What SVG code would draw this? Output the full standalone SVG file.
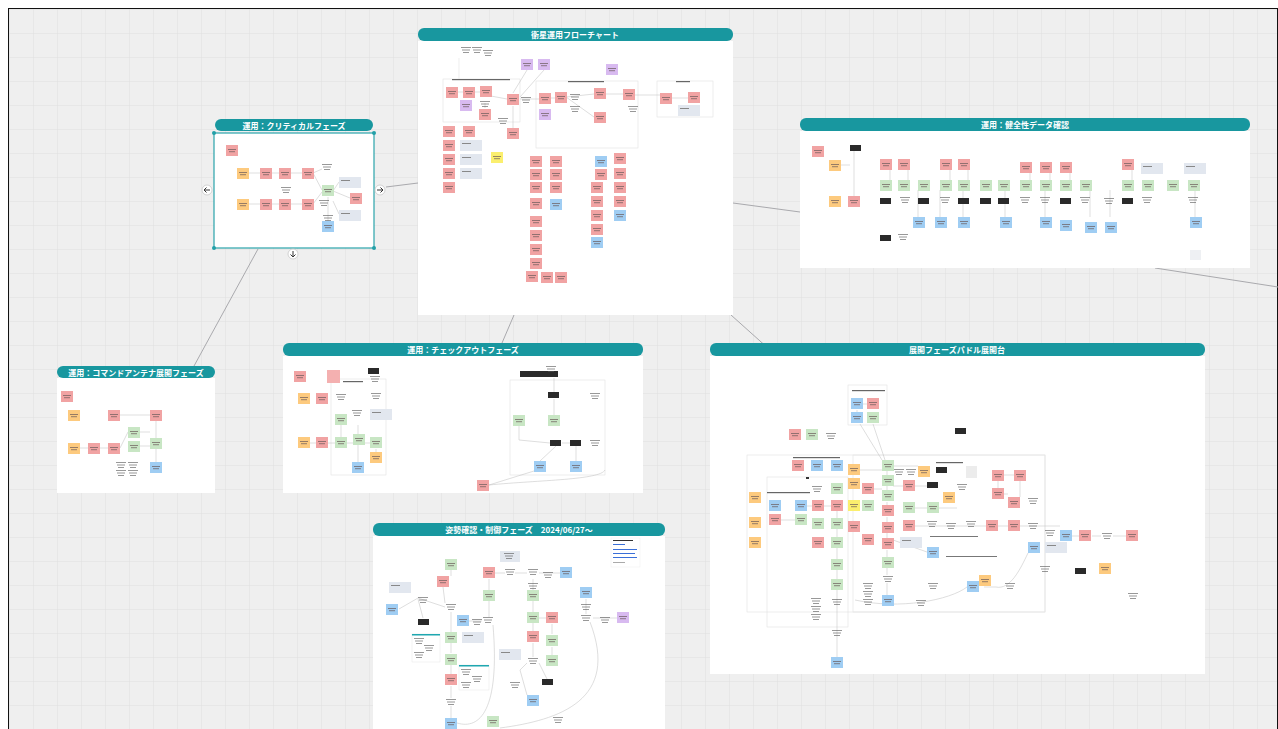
<svg xmlns="http://www.w3.org/2000/svg" xmlns:xlink="http://www.w3.org/1999/xlink" width="1278" height="729" viewBox="0 0 1278 729">
<style>
.ttl{fill:#18979f}
.tt{font-family:"Noto Sans CJK JP","Noto Sans",sans-serif;font-size:8px;font-weight:bold;fill:#fff;text-anchor:middle}
.body{fill:#fff}
.grp{fill:none;stroke:#e2e2e2;stroke-width:0.6}
.cn{stroke:#a9a9ad;stroke-width:1;fill:none}
.ln{stroke:#bdbdbd;stroke-width:0.5;fill:none}
</style>
<defs>
<pattern id="grid" width="24" height="24" patternUnits="userSpaceOnUse" x="10" y="10">
<rect width="24" height="24" fill="#efefef"/>
<path d="M24 0V24M0 24H24" stroke="#e0e0e0" stroke-width="1"/>
</pattern>
<g id="bars"><rect x="2" y="4" width="8" height="1" fill="#6a5a5a" opacity="0.7"/><rect x="3" y="6.2" width="6" height="1" fill="#6a5a5a" opacity="0.7"/></g>
<g id="R"><rect width="12" height="11" fill="#f1a3a3"/><use href="#bars"/></g>
<g id="O"><rect width="12" height="11" fill="#fdca7e"/><use href="#bars"/></g>
<g id="G"><rect width="12" height="11" fill="#c8e6c4"/><use href="#bars"/></g>
<g id="B"><rect width="12" height="11" fill="#9fcdf3"/><use href="#bars"/></g>
<g id="P"><rect width="12" height="11" fill="#d8baf0"/><use href="#bars"/></g>
<g id="Y"><rect width="12" height="11" fill="#fbef6e"/><use href="#bars"/></g>
<g id="S"><rect width="22" height="11" fill="#e2e7ef"/><rect x="2" y="3" width="9" height="1" fill="#888"/></g>
<g id="T" opacity="0.6"><rect x="0" y="0" width="10" height="1" fill="#555"/><rect x="1" y="2.5" width="8" height="1" fill="#555"/><rect x="2" y="5" width="6" height="1" fill="#555"/></g>
<g id="K"><rect width="11" height="6" fill="#2a2a2a"/></g>
</defs>

<rect width="1278" height="729" fill="#fff"/>
<rect x="9" y="9" width="1268" height="722" fill="url(#grid)"/>
<rect x="8.5" y="8.5" width="1269" height="730" fill="none" stroke="#111" stroke-width="1"/>

<g id="connectors">
<path class="cn" d="M386 187L418 183"/>
<path class="cn" d="M258 249L194 366"/>
<path class="cn" d="M514 315L502 343"/>
<path class="cn" d="M731 315L779 358"/>
<path class="cn" d="M733 203L800 212"/>
<path class="cn" d="M1155 268L1278 287"/>
</g>

<!-- main flowchart frame -->
<g id="frame-main">
<rect class="body" x="418" y="41" width="315" height="274"/>
<rect class="ttl" x="418" y="28" width="315" height="13" rx="6"/>
<text class="tt" x="575" y="38">衛星運用フローチャート</text>
<use href="#T" x="461" y="47"/><use href="#T" x="472" y="47"/><use href="#T" x="483" y="50"/>
<path class="grp" d="M459 58V79"/>
<rect class="grp" x="443" y="79" width="77" height="43"/>
<rect class="grp" x="536" y="81" width="102" height="67"/>
<rect class="grp" x="657" y="81" width="56" height="36"/>
<rect x="452" y="79" width="58" height="1.2" fill="#666"/>
<rect x="568" y="81" width="36" height="1.2" fill="#666"/>
<rect x="676" y="81" width="14" height="1.2" fill="#666"/>
<path class="ln" d="M457 92H463M475 92H480M491 96L507 99M520 99H539M550 98H555M566 97L594 94M566 97L594 117M606 94H623M635 95H660M671 98H688M513 106V128M485 103V108M527 70L513 93M544 70L520 97"/>
<use href="#P" x="521" y="59"/><use href="#P" x="538" y="59"/><use href="#P" x="606" y="64"/><use href="#P" x="460" y="100"/><use href="#P" x="539" y="109"/>
<use href="#R" x="446" y="87"/><use href="#R" x="463" y="87"/><use href="#R" x="480" y="86"/><use href="#R" x="507" y="94"/><use href="#R" x="479" y="109"/><use href="#R" x="507" y="128"/>
<use href="#R" x="539" y="93"/><use href="#R" x="555" y="92"/><use href="#R" x="594" y="88"/><use href="#R" x="594" y="112"/><use href="#R" x="623" y="89"/>
<use href="#R" x="660" y="93"/><use href="#R" x="688" y="92"/>
<use href="#S" x="678" y="105"/>
<use href="#T" x="570" y="94"/><use href="#T" x="570" y="106"/><use href="#T" x="480" y="101"/><use href="#T" x="498" y="118"/><use href="#T" x="521" y="97"/><use href="#T" x="628" y="106"/>
<use href="#R" x="443" y="126"/><use href="#R" x="463" y="126"/><use href="#R" x="443" y="140"/><use href="#R" x="443" y="154"/><use href="#R" x="443" y="168"/><use href="#R" x="443" y="182"/>
<use href="#S" x="460" y="140"/><use href="#S" x="460" y="154"/><use href="#S" x="460" y="168"/>
<use href="#Y" x="491" y="152"/>
<use href="#R" x="530" y="156"/><use href="#R" x="530" y="169"/><use href="#R" x="530" y="182"/><use href="#R" x="530" y="198"/><use href="#R" x="530" y="216"/><use href="#R" x="530" y="230"/><use href="#R" x="530" y="244"/><use href="#R" x="530" y="258"/><use href="#R" x="526" y="271"/><use href="#R" x="541" y="272"/><use href="#R" x="555" y="272"/>
<use href="#R" x="550" y="156"/><use href="#R" x="550" y="169"/><use href="#R" x="550" y="182"/><use href="#B" x="550" y="199"/>
<use href="#B" x="595" y="156"/><use href="#R" x="595" y="169"/><use href="#R" x="591" y="182"/><use href="#R" x="591" y="196"/><use href="#R" x="591" y="210"/><use href="#R" x="591" y="224"/><use href="#B" x="591" y="237"/>
<use href="#R" x="614" y="153"/><use href="#R" x="614" y="168"/><use href="#R" x="614" y="182"/><use href="#R" x="614" y="196"/><use href="#B" x="614" y="210"/>
</g>

<!-- critical phase frame -->
<g id="frame-critical">
<rect class="body" x="214" y="133" width="160" height="115" stroke="#2aa3ab" stroke-width="1.2"/>
<rect class="ttl" x="215" y="119" width="158" height="12" rx="6"/>
<text class="tt" x="294" y="128.5">運用：クリティカルフェーズ</text>
<path class="ln" d="M249 173H260M272 173H279M291 173H302M313 173L322 169M313 173L322 190M249 204H260M272 204H279M291 204H302M313 204L322 192M333 191L350 198M333 191L339 182M333 201L339 214M328 197V221"/>
<use href="#R" x="226" y="145"/>
<use href="#O" x="237" y="168"/><use href="#R" x="260" y="168"/><use href="#R" x="279" y="168"/><use href="#R" x="302" y="168"/>
<use href="#O" x="237" y="199"/><use href="#R" x="260" y="199"/><use href="#R" x="279" y="199"/><use href="#R" x="302" y="199"/>
<use href="#G" x="322" y="185"/><use href="#S" x="339" y="177"/><use href="#R" x="350" y="193"/><use href="#S" x="339" y="210"/><use href="#B" x="322" y="221"/>
<use href="#T" x="322" y="164"/><use href="#T" x="281" y="187"/><use href="#T" x="319" y="200"/><use href="#T" x="323" y="215"/>
<g fill="#23a0a8"><circle cx="214" cy="133" r="2"/><circle cx="374" cy="133" r="2"/><circle cx="214" cy="248" r="2"/><circle cx="374" cy="248" r="2"/></g>
<g fill="#fff" stroke="#c8c8c8" stroke-width="0.8"><circle cx="207" cy="190" r="5"/><circle cx="380" cy="190" r="5"/><circle cx="293" cy="254" r="5"/></g>
<path d="M210 190H204M206.5 187.5L204 190L206.5 192.5M377 190H383M380.5 187.5L383 190L380.5 192.5M293 251V257M290.5 254.5L293 257L295.5 254.5" stroke="#333" stroke-width="1" fill="none"/>
</g>

<!-- health data frame -->
<g id="frame-health">
<rect class="body" x="800" y="131" width="450" height="137"/>
<rect class="ttl" x="800" y="118" width="450" height="13" rx="6"/>
<text class="tt" x="1025" y="127.5">運用：健全性データ確認</text>
<path class="ln" d="M854 150V196M840 165H850M890 170V180M908 170V180M950 170V180M968 170V180M1030 170V180M1050 170V180M1070 170V180M1132 170V180M918 190V217M940 190V217M963 190V217M1005 190V217M1045 190V217M1090 190V217M1110 190V217M1195 190V217"/>
<use href="#R" x="812" y="146"/><use href="#K" x="850" y="145"/>
<use href="#O" x="829" y="160"/><use href="#O" x="829" y="196"/><use href="#R" x="848" y="196"/>
<use href="#R" x="880" y="159"/><use href="#R" x="898" y="159"/><use href="#R" x="940" y="159"/><use href="#R" x="958" y="159"/><use href="#R" x="1020" y="162"/><use href="#R" x="1040" y="162"/><use href="#R" x="1060" y="162"/><use href="#R" x="1122" y="159"/>
<use href="#S" x="1141" y="163"/><use href="#S" x="1184" y="163"/>
<use href="#G" x="880" y="180"/><use href="#G" x="898" y="180"/><use href="#G" x="918" y="180"/><use href="#G" x="940" y="180"/><use href="#G" x="958" y="180"/><use href="#G" x="980" y="180"/><use href="#G" x="998" y="180"/><use href="#G" x="1020" y="180"/><use href="#G" x="1040" y="180"/><use href="#G" x="1060" y="180"/><use href="#G" x="1080" y="180"/><use href="#G" x="1122" y="180"/><use href="#G" x="1142" y="180"/><use href="#G" x="1167" y="180"/><use href="#G" x="1188" y="180"/>
<use href="#K" x="880" y="198"/><use href="#T" x="900" y="197"/><use href="#K" x="918" y="198"/><use href="#T" x="940" y="197"/><use href="#K" x="958" y="198"/><use href="#K" x="980" y="198"/><use href="#K" x="998" y="198"/><use href="#T" x="1020" y="197"/><use href="#T" x="1040" y="197"/><use href="#K" x="1060" y="198"/><use href="#T" x="1080" y="197"/><use href="#T" x="1104" y="198"/><use href="#K" x="1122" y="198"/><use href="#T" x="1142" y="197"/><use href="#T" x="1188" y="197"/>
<use href="#B" x="913" y="217"/><use href="#B" x="935" y="217"/><use href="#B" x="958" y="217"/><use href="#B" x="1000" y="217"/><use href="#B" x="1040" y="217"/><use href="#B" x="1060" y="220"/><use href="#B" x="1085" y="222"/><use href="#B" x="1105" y="222"/><use href="#B" x="1190" y="217"/>
<use href="#K" x="880" y="235"/><use href="#T" x="898" y="234"/>
<rect x="1190" y="250" width="11" height="10" fill="#eef0f3"/>
</g>

<!-- command antenna frame -->
<g id="frame-antenna">
<rect class="body" x="57" y="378" width="158" height="115"/>
<rect class="ttl" x="57" y="366" width="158" height="12" rx="6"/>
<text class="tt" x="136" y="375.5">運用：コマンドアンテナ展開フェーズ</text>
<path class="ln" d="M80 448H88M100 448H108M120 448L128 432M120 415H150M139 432H150M139 446H150M156 421V438M156 448V462"/>
<use href="#R" x="61" y="391"/>
<use href="#O" x="68" y="410"/><use href="#O" x="68" y="443"/><use href="#R" x="88" y="443"/>
<use href="#R" x="108" y="410"/><use href="#R" x="108" y="443"/><use href="#G" x="128" y="427"/><use href="#G" x="128" y="441"/>
<use href="#R" x="150" y="410"/><use href="#G" x="150" y="438"/><use href="#B" x="150" y="462"/>
<use href="#T" x="116" y="462"/><use href="#T" x="128" y="462"/><use href="#T" x="116" y="470"/><use href="#T" x="128" y="470"/>
</g>

<!-- checkout frame -->
<g id="frame-checkout">
<rect class="body" x="283" y="356" width="360" height="137"/>
<rect class="ttl" x="283" y="343" width="360" height="13" rx="6"/>
<text class="tt" x="463" y="352.5">運用：チェックアウトフェーズ</text>
<rect class="grp" x="331" y="379" width="55" height="96"/>
<rect class="grp" x="510" y="380" width="95" height="95"/>
<path class="ln" d="M310 443H316M328 443H335M347 443H370M341 425V437M358 425V435M376 449V452M358 445V462M554 378V392M554 399V415M519 425V440L550 443M562 443H570M576 446V461M556 446L540 461M489 485L534 471M489 485C540 480 600 480 605 470"/>
<use href="#R" x="294" y="371"/><rect x="327" y="370" width="13" height="13" fill="#f4b0b0"/>
<use href="#K" x="368" y="368"/><use href="#T" x="370" y="376"/>
<rect x="343" y="381" width="20" height="1.2" fill="#666"/>
<use href="#O" x="298" y="393"/><use href="#R" x="316" y="393"/><use href="#T" x="336" y="394"/><use href="#T" x="371" y="393"/>
<use href="#G" x="335" y="414"/><use href="#T" x="352" y="410"/><use href="#S" x="370" y="409"/>
<use href="#O" x="298" y="437"/><use href="#R" x="316" y="437"/><use href="#G" x="335" y="437"/><use href="#G" x="353" y="434"/><use href="#G" x="370" y="437"/>
<use href="#B" x="352" y="462"/><use href="#O" x="370" y="452"/>
<rect x="520" y="371" width="38" height="6" fill="#2a2a2a"/><use href="#T" x="546" y="366"/>
<use href="#K" x="548" y="392"/><use href="#T" x="590" y="393"/>
<use href="#G" x="513" y="415"/><use href="#G" x="548" y="415"/>
<use href="#K" x="550" y="440"/><use href="#K" x="570" y="440"/><use href="#T" x="590" y="440"/>
<use href="#B" x="534" y="461"/><use href="#B" x="570" y="461"/>
<use href="#R" x="477" y="480"/>
</g>

<!-- paddle deployment frame -->
<g id="frame-paddle">
<rect class="body" x="710" y="356" width="495" height="318"/>
<rect class="ttl" x="710" y="343" width="495" height="13" rx="6"/>
<text class="tt" x="957" y="352.5">展開フェーズパドル展開台</text>
<rect class="grp" x="848" y="385" width="39" height="40"/>
<rect class="grp" x="747" y="455" width="298" height="157"/>
<rect class="grp" x="767" y="477" width="81" height="150"/>
<rect class="grp" x="853" y="455" width="192" height="157"/>
<rect x="852" y="390" width="33" height="1.2" fill="#666"/>
<rect x="793" y="457" width="47" height="1.2" fill="#666"/>
<rect x="767" y="492" width="43" height="1.2" fill="#666"/>
<rect x="936" y="462" width="27" height="1.2" fill="#666"/>
<path class="ln" d="M863 404H867M857 410V412M860 424L882 460M873 424L885 460M887 466V475M887 486V490M887 502V505M887 517V522M887 533V538M887 550V557M887 568V575M887 583V595M837 505V631M837 631V657M781 520H795M803 506H812M823 506H831M859 470H882M893 466H918M873 489H882M893 486H903M915 486H927M915 508H927M938 508H957M915 526H986M997 526H1008M1020 526H1060M1072 536H1079M1092 536H1101M1113 536H1126M998 475H1014M998 481V488M1020 481V497M1003 494H1008M984 587H996C1010 590 1020 570 1028 553M855 600C900 610 950 600 967 587M893 540L927 552"/>
<use href="#B" x="851" y="398"/><use href="#R" x="867" y="398"/><use href="#B" x="851" y="412"/><use href="#G" x="867" y="412"/>
<use href="#K" x="955" y="428"/>
<use href="#R" x="789" y="429"/><use href="#G" x="806" y="429"/><use href="#T" x="826" y="433"/>
<use href="#R" x="792" y="460"/><use href="#B" x="811" y="460"/><use href="#B" x="831" y="460"/>
<use href="#O" x="848" y="464"/><use href="#O" x="848" y="478"/><use href="#Y" x="848" y="500"/><use href="#R" x="848" y="521"/>
<use href="#G" x="882" y="460"/><use href="#G" x="882" y="475"/><use href="#G" x="882" y="490"/><use href="#R" x="882" y="505"/><use href="#R" x="882" y="522"/><use href="#R" x="882" y="538"/><use href="#G" x="882" y="557"/><use href="#T" x="883" y="576"/><use href="#B" x="882" y="595"/>
<use href="#T" x="894" y="469"/><use href="#T" x="906" y="469"/>
<use href="#O" x="918" y="466"/><use href="#K" x="936" y="467"/><rect x="966" y="466" width="11" height="12" fill="#ececec"/>
<use href="#R" x="903" y="480"/><use href="#K" x="927" y="482"/><use href="#T" x="957" y="484"/>
<use href="#R" x="992" y="470"/><use href="#R" x="1014" y="470"/><use href="#R" x="992" y="488"/><use href="#R" x="1008" y="497"/><use href="#T" x="1028" y="498"/>
<use href="#O" x="943" y="492"/>
<use href="#R" x="862" y="483"/><use href="#G" x="862" y="500"/><use href="#R" x="862" y="534"/>
<use href="#G" x="903" y="502"/><use href="#G" x="927" y="502"/>
<use href="#R" x="903" y="520"/><use href="#T" x="927" y="521"/><use href="#T" x="946" y="523"/><use href="#T" x="966" y="521"/>
<use href="#S" x="900" y="537"/><use href="#B" x="927" y="547"/>
<use href="#R" x="986" y="520"/><use href="#R" x="1008" y="520"/><use href="#T" x="1028" y="523"/>
<rect x="930" y="536" width="48" height="1" fill="#777"/><rect x="946" y="556" width="51" height="1" fill="#777"/>
<use href="#B" x="1028" y="542"/><use href="#S" x="1045" y="542"/><use href="#T" x="1045" y="530"/>
<use href="#B" x="1060" y="530"/><use href="#R" x="1079" y="530"/><use href="#T" x="1102" y="533"/><use href="#R" x="1126" y="530"/>
<use href="#T" x="1040" y="566"/><use href="#K" x="1075" y="568"/><use href="#O" x="1099" y="563"/><use href="#T" x="1128" y="593"/>
<use href="#O" x="979" y="575"/><use href="#B" x="967" y="581"/>
<use href="#T" x="928" y="583"/><use href="#T" x="1005" y="583"/><use href="#T" x="916" y="600"/>
<use href="#T" x="811" y="598"/><use href="#T" x="811" y="606"/><use href="#T" x="811" y="614"/><use href="#T" x="863" y="583"/><use href="#T" x="863" y="591"/><use href="#T" x="863" y="599"/>
<use href="#T" x="812" y="486"/><use href="#G" x="831" y="483"/>
<use href="#R" x="812" y="500"/><use href="#R" x="831" y="500"/>
<use href="#G" x="812" y="518"/><use href="#G" x="831" y="518"/>
<use href="#R" x="812" y="537"/><use href="#G" x="831" y="537"/>
<use href="#G" x="831" y="559"/><use href="#G" x="831" y="579"/><use href="#T" x="832" y="599"/><use href="#T" x="832" y="630"/>
<use href="#B" x="831" y="657"/>
<use href="#B" x="769" y="500"/><use href="#B" x="795" y="500"/><use href="#R" x="769" y="514"/><use href="#G" x="795" y="514"/>
<use href="#O" x="749" y="492"/><use href="#O" x="749" y="517"/><use href="#O" x="749" y="537"/>
<rect x="806" y="477" width="3" height="2" fill="#333"/>
</g>

<!-- attitude determination frame -->
<g id="frame-attitude">
<rect class="body" x="373" y="536" width="292" height="193"/>
<rect class="ttl" x="373" y="523" width="292" height="13" rx="6"/>
<text class="tt" x="519" y="532.5">姿勢確認・制御フェーズ　2024/06/27〜</text>
<path class="ln" d="M451 570V576M443 587L445 603M399 609L418 598L445 607M489 579V590M494 573H505M515 573H527M539 573H560M489 601V617M451 612V632M469 621H482M451 643V653M451 665V674M451 686V698M451 706V718M533 579V590M533 601V612M539 618H546M552 624V634M552 647V655M593 618H617M586 599V614M533 623V631M533 643V657M520 670L527 663M539 663L548 681M520 670L527 695M457 723C480 730 500 710 493 625M500 728C560 720 620 700 590 622M418 599L423 618"/>
<use href="#G" x="445" y="559"/><use href="#R" x="437" y="576"/><use href="#R" x="483" y="567"/>
<rect x="500" y="551" width="20" height="11" fill="#e2e7ef"/><use href="#T" x="504" y="553"/>
<use href="#T" x="505" y="569"/><use href="#T" x="528" y="569"/><use href="#T" x="543" y="572"/><use href="#B" x="560" y="567"/>
<use href="#S" x="389" y="582"/><use href="#T" x="418" y="597"/>
<use href="#B" x="386" y="604"/><use href="#T" x="446" y="604"/>
<use href="#G" x="483" y="590"/><use href="#T" x="528" y="583"/><use href="#G" x="527" y="590"/>
<use href="#B" x="580" y="587"/><use href="#T" x="581" y="604"/>
<use href="#K" x="418" y="619"/><use href="#B" x="457" y="615"/><use href="#T" x="472" y="619"/><use href="#T" x="483" y="617"/>
<use href="#G" x="527" y="612"/><use href="#R" x="546" y="612"/><use href="#T" x="581" y="615"/><use href="#T" x="600" y="617"/><use href="#P" x="617" y="612"/>
<rect x="412" y="634" width="28" height="28" fill="#fff" stroke="#e6e6e6" stroke-width="0.5"/><rect x="412" y="634" width="28" height="1.5" fill="#1fa7b0"/><use href="#T" x="414" y="638"/><use href="#T" x="424" y="645"/><use href="#T" x="414" y="652"/>
<use href="#G" x="445" y="632"/><use href="#S" x="462" y="632"/>
<use href="#R" x="527" y="631"/><use href="#G" x="546" y="635"/>
<use href="#S" x="499" y="649"/>
<use href="#G" x="445" y="654"/>
<rect x="459" y="665" width="30" height="25" fill="#fff" stroke="#e6e6e6" stroke-width="0.5"/><rect x="459" y="665" width="30" height="1.5" fill="#1fa7b0"/><use href="#T" x="461" y="669"/><use href="#T" x="472" y="676"/><use href="#T" x="461" y="682"/>
<use href="#T" x="528" y="658"/><use href="#G" x="546" y="655"/>
<use href="#R" x="445" y="674"/><use href="#T" x="510" y="682"/><use href="#K" x="542" y="679"/>
<use href="#B" x="527" y="695"/><use href="#T" x="446" y="699"/>
<use href="#B" x="445" y="718"/><use href="#G" x="487" y="716"/><use href="#T" x="553" y="717"/>
<rect x="611" y="538" width="29" height="29" fill="#fff" stroke="#ededed" stroke-width="0.5"/><rect x="613" y="540" width="20" height="1" fill="#333"/><rect x="613" y="544" width="12" height="1" fill="#3a6fd8"/><rect x="613" y="549" width="24" height="1" fill="#3a6fd8"/><rect x="613" y="553" width="22" height="1" fill="#3a6fd8"/><rect x="613" y="557" width="24" height="1" fill="#3a6fd8"/><rect x="613" y="562" width="12" height="1" fill="#aaa"/>
</g>
</svg>
